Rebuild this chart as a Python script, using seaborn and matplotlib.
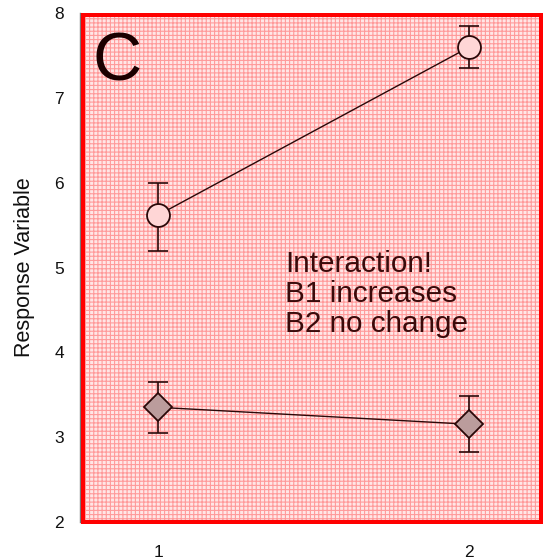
import numpy as np
import pandas as pd
import matplotlib
matplotlib.use("Agg")
import matplotlib.pyplot as plt
from matplotlib.patches import Rectangle
import seaborn as sns

# data
levels = [1, 2]
b1_mean = [5.62, 7.60]
b1_low = [5.20, 7.35]
b1_high = [6.00, 7.85]
b2_mean = [3.35, 3.15]
b2_low = [3.05, 2.82]
b2_high = [3.65, 3.48]
yticks = [2, 3, 4, 5, 6, 7, 8]
panel_label = "C"
note_lines = ["Interaction!", "B1 increases", "B2 no change"]

sns.set_theme(style="white")
plt.rcParams['font.family'] = ['Liberation Sans', 'DejaVu Sans']
plt.rcParams['hatch.linewidth'] = 0.8

W, H = 543, 560
fig = plt.figure(figsize=(W / 100, H / 100), dpi=100)
L, T, R, B = 81, 13.3, 543, 521.7
ax = fig.add_axes([L / W, 1 - B / H, (R - L) / W, (B - T) / H])
aw, ah = R - L, B - T

# patterned background
ax.set_facecolor('#ffe6e6')
bg = Rectangle((0, 0), 1, 1, transform=ax.transAxes, facecolor='none',
               edgecolor='#ff9a9a', hatch='++++', linewidth=0, zorder=0)
ax.add_patch(bg)

line_col = '#2a0808'
df1 = pd.DataFrame({'x': levels, 'y': b1_mean})
df2 = pd.DataFrame({'x': levels, 'y': b2_mean})

for m, lo, hi in [(b1_mean, b1_low, b1_high), (b2_mean, b2_low, b2_high)]:
    m, lo, hi = np.array(m), np.array(lo), np.array(hi)
    ax.errorbar(levels, m, yerr=[m - lo, hi - m], fmt='none', ecolor=line_col,
                elinewidth=1.2, capsize=7, capthick=1.2, zorder=2)

sns.lineplot(data=df1, x='x', y='y', ax=ax, color=line_col, linewidth=1.0,
             marker='o', markersize=16.5, markerfacecolor='#ffd6d6',
             markeredgecolor=line_col, markeredgewidth=1.3, zorder=3)
sns.lineplot(data=df2, x='x', y='y', ax=ax, color=line_col, linewidth=1.0,
             marker='D', markersize=14, markerfacecolor='#bb9c9c',
             markeredgecolor=line_col, markeredgewidth=1.3, zorder=3)

ax.set_xlim(0.751, 2.238)
ax.set_ylim(2, 8)
ax.set_xticks(levels)
ax.set_xticklabels([str(v) for v in levels])
ax.set_yticks(yticks)
ax.set_yticklabels([str(v) for v in yticks])
ax.set_xlabel('')
ax.set_ylabel('Response Variable', fontsize=15.5, color='#111111', labelpad=14)

for s in ['top', 'right', 'bottom']:
    ax.spines[s].set_visible(False)
ax.spines['left'].set_color('#777777')
ax.spines['left'].set_linewidth(1.0)
ax.spines['left'].set_position(('outward', 1))

# red frame drawn just inside the axes
lw_px = 4.0
frame = Rectangle((lw_px / 2 / aw, 0.0), 1 - lw_px / aw, 1 - lw_px / 2 / ah,
                  transform=ax.transAxes, facecolor='none', edgecolor='#ff0000',
                  linewidth=lw_px * 0.72, zorder=5, clip_on=False)
ax.add_patch(frame)

ax.tick_params(axis='both', which='both', direction='out', width=1,
               color='#333333', labelsize=12.5, labelcolor='#111111')
ax.tick_params(axis='x', length=7.5, pad=9)
ax.tick_params(axis='y', length=3.6, pad=7.5)

ax.text(12 / aw, 1 - 17 / ah, panel_label, transform=ax.transAxes, fontsize=49,
        color='#1a0000', ha='left', va='top', zorder=6)
for i, line in enumerate(note_lines):
    ax.text((285 - L) / aw, 1 - (272 + 30 * i - T) / ah, line, transform=ax.transAxes,
            fontsize=21.4, color='#3a0a0a', ha='left', va='baseline', zorder=6)

fig.savefig('out.png', dpi=100)
